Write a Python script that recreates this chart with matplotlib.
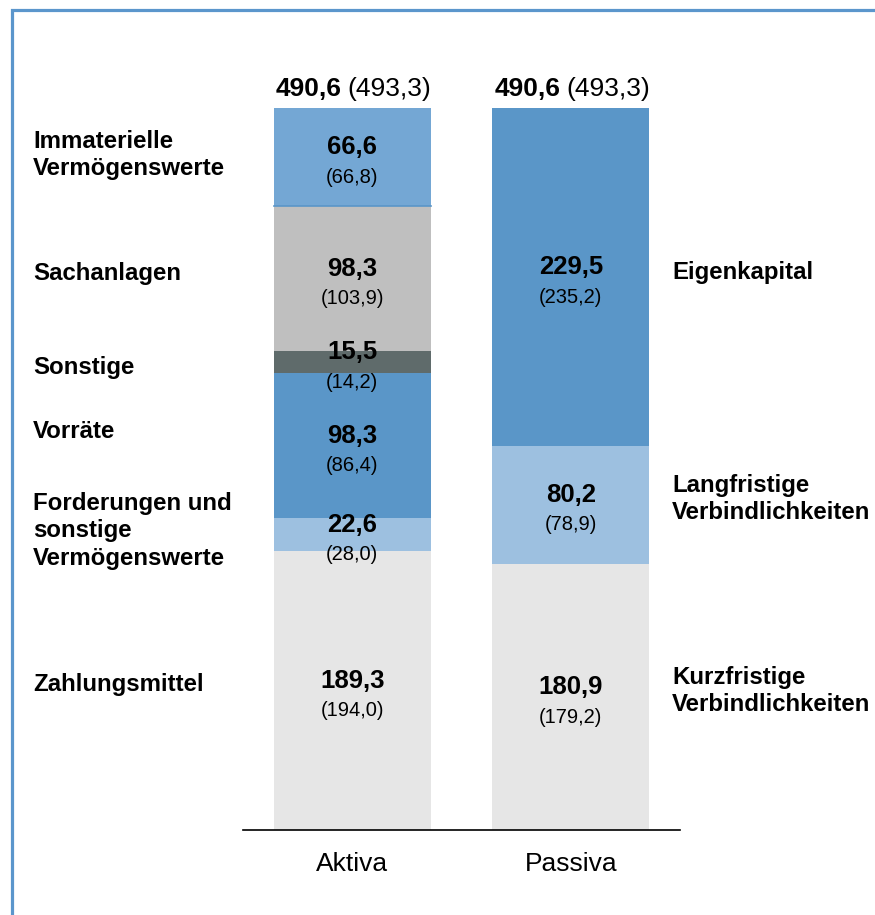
import matplotlib
matplotlib.use("Agg")
import matplotlib.pyplot as plt
from matplotlib.patches import Rectangle

plt.rcParams['font.family'] = ['Liberation Sans', 'DejaVu Sans']

# Daten (Mio. EUR), in Klammern Vorjahr
kategorien = ["Aktiva", "Passiva"]
summe = [490.6, 490.6]
summe_vj = [493.3, 493.3]

aktiva_namen = ["Zahlungsmittel", "Forderungen und\nsonstige\nVermögenswerte",
                "Vorräte", "Sonstige", "Sachanlagen", "Immaterielle\nVermögenswerte"]
aktiva_werte = [189.3, 22.6, 98.3, 15.5, 98.3, 66.6]
aktiva_vj = [194.0, 28.0, 86.4, 14.2, 103.9, 66.8]
aktiva_farben = ["#e6e6e6", "#9dc0e0", "#5a96c8", "#5f6b6b", "#bfbfbf", "#74a7d4"]

passiva_namen = ["Kurzfristige\nVerbindlichkeiten", "Langfristige\nVerbindlichkeiten", "Eigenkapital"]
passiva_werte = [180.9, 80.2, 229.5]
passiva_vj = [179.2, 78.9, 235.2]
passiva_farben = ["#e6e6e6", "#9dc0e0", "#5a96c8"]

# Verschiebung der Beschriftungen (Pixel, positiv = nach oben)
aktiva_label_dy = [6, 4, 14, -5, 5, 2]
passiva_label_dy = [6, 6, 4]


def fmt(v):
    return f"{v:.1f}".replace(".", ",")


W, H = 875, 915
fig = plt.figure(figsize=(W / 100, H / 100), dpi=100)
ax = fig.add_axes([243 / W, (H - 830) / H, 437 / W, 722 / H])
ax.set_xlim(-0.5, 1.5)
ax.set_ylim(0, summe[0])

breite = 0.717


def stapel(x, werte, vj, farben, namen, dys, label_x):
    unten = 0
    for w, p, f, n, dy in zip(werte, vj, farben, namen, dys):
        ax.bar(x, w, bottom=unten, width=breite, color=f, linewidth=0)
        mitte = unten + w / 2
        ax.annotate(fmt(w), (x, mitte), xytext=(0, 7), textcoords="offset points",
                    ha="center", va="center", fontsize=18.5, fontweight="bold")
        ax.annotate(f"({fmt(p)})", (x, mitte), xytext=(0, -14.5), textcoords="offset points",
                    ha="center", va="center", fontsize=14.5)
        ypx = ax.transData.transform((0, mitte))[1] + dy
        fig.text(label_x / W, ypx / H, n, ha="left", va="center", fontsize=17.3,
                 fontweight="bold", linespacing=1.25)
        unten += w


stapel(0, aktiva_werte, aktiva_vj, aktiva_farben, aktiva_namen, aktiva_label_dy, 33)
stapel(1, passiva_werte, passiva_vj, passiva_farben, passiva_namen, passiva_label_dy, 672)

# Trennlinie unter immateriellen Vermögenswerten
ax.axhline(sum(aktiva_werte[:5]), xmin=(0.5 - breite / 2) / 2, xmax=(0.5 + breite / 2) / 2,
           color="#5a96c8", linewidth=1.2)

# Summen über den Balken
for i, (s, v) in enumerate(zip(summe, summe_vj)):
    ax.annotate(fmt(s), (i, s), xytext=(-7.5, 14), textcoords="offset points",
                ha="right", va="center", fontsize=19, fontweight="bold", annotation_clip=False)
    ax.annotate(f"({fmt(v)})", (i, s), xytext=(-3.5, 14), textcoords="offset points",
                ha="left", va="center", fontsize=19, annotation_clip=False)

ax.set_xticks([0, 1])
ax.set_xticklabels(kategorien, fontsize=19)
ax.tick_params(axis="x", length=0, pad=16)
ax.set_yticks([])
for s in ["top", "left", "right"]:
    ax.spines[s].set_visible(False)
ax.spines["bottom"].set_linewidth(1.2)

# Rahmen
fig.patches.append(Rectangle((12 / W, -0.1), 1.2, 1 - 10 / H + 0.1, transform=fig.transFigure,
                             fill=False, edgecolor="#5b96cc", linewidth=2.3))

fig.savefig("out.png", dpi=100)
